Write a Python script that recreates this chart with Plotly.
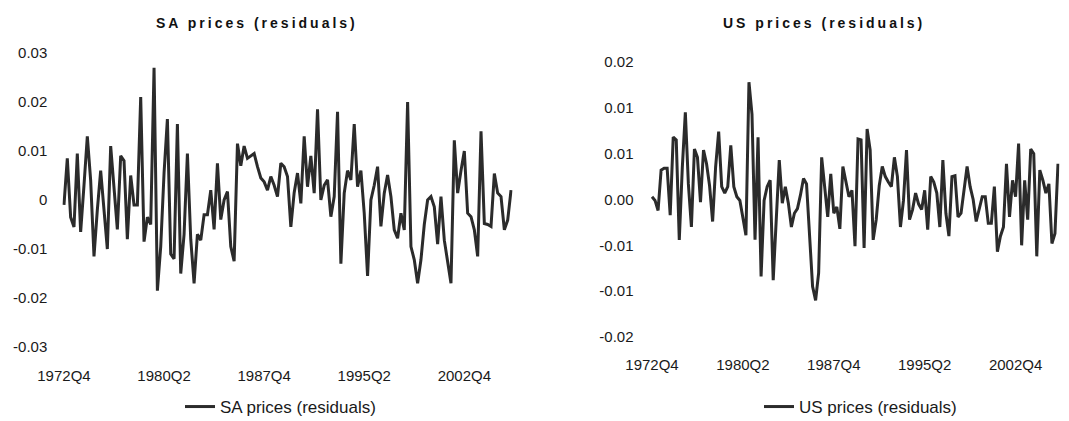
import plotly.graph_objects as go

# ---- data ----
start_year = 1972
start_quarter = 4

sa_residuals = [
    -0.001, 0.0085, -0.0035, -0.0055, 0.0095, -0.0065, 0.003, 0.013, 0.004, -0.0115,
    -0.002, 0.006, -0.002, -0.010, 0.011, 0.002, -0.006, 0.009, 0.008, -0.008,
    0.005, -0.001, -0.001, 0.021, -0.0085, -0.0035, -0.005, 0.027, -0.0185, -0.0095,
    0.0055, 0.0165, -0.011, -0.012, 0.0155, -0.015, -0.007, 0.0095, -0.008, -0.017,
    -0.007, -0.0082, -0.003, -0.003, 0.002, -0.006, 0.0075, -0.004, 0.0, 0.0017,
    -0.0095, -0.0125, 0.0115, 0.007, 0.011, 0.0085, 0.009, 0.0095, 0.0068, 0.0045,
    0.0037, 0.002, 0.0048, 0.003, 0.0007, 0.0075, 0.0068, 0.0048, -0.0055, 0.0015,
    0.0055, -0.0007, 0.013, 0.0027, 0.009, 0.0014, 0.0185, 0.0, 0.003, 0.0041,
    -0.0034, 0.0007, 0.018, -0.013, 0.0014, 0.006, 0.0041, 0.0155, 0.0027, 0.006,
    -0.0027, -0.0155, 0.0, 0.003, 0.0068, -0.0054, 0.0014, 0.0051, 0.0007, -0.0061,
    -0.0078, -0.0027, -0.0061, 0.020, -0.0095, -0.0122, -0.017, -0.0122, -0.005, 0.0,
    0.0007, -0.0014, -0.009, 0.0007, -0.0082, -0.013, -0.017, 0.0122, 0.0014, 0.006,
    0.010, -0.0027, -0.0034, -0.0061, -0.0115, 0.014, -0.0048, -0.005, -0.0054, 0.0054,
    0.0014, 0.0007, -0.0061, -0.0041, 0.002,
]

us_residuals = [
    0.0003, -0.0001, -0.0012, 0.0032, 0.0034, 0.0034, -0.0017, 0.0068, 0.0065, -0.0044,
    0.0035, 0.0095, 0.0017, -0.003, 0.0055, 0.0046, -0.0003, 0.0054, 0.0039, 0.0015,
    -0.0024, 0.0036, 0.0074, 0.0014, 0.0007, 0.0014, 0.0059, 0.0014, 0.0003, -0.0001,
    -0.002, -0.0039, 0.0128, 0.0093, -0.0044, 0.0068, -0.0084, -0.0001, 0.0014, 0.0021,
    -0.0088, -0.0022, 0.0043, -0.0004, 0.0014, -0.0004, -0.003, -0.0015, -0.001, 0.0005,
    0.0023, 0.0017, -0.0033, -0.0095, -0.011, -0.008, 0.0046, 0.0014, -0.0019, 0.0028,
    -0.0015, -0.0008, -0.0032, 0.0036, 0.0021, 0.0003, 0.001, -0.0051, 0.0066, 0.0065,
    -0.0053, 0.0077, 0.0054, -0.0044, -0.0022, 0.0015, 0.0036, 0.0025, 0.0019, 0.0014,
    0.0046, 0.0025, -0.003, -0.0001, 0.0054, -0.0022, -0.0011, 0.0007, -0.0005, -0.0011,
    0.001, -0.0033, 0.0025, 0.0019, 0.0007, -0.003, 0.0043, -0.0015, -0.004, 0.0025,
    0.0026, -0.0019, -0.0015, 0.001, 0.0036, 0.0014, 0.0, -0.0024, -0.001, 0.0003,
    0.0003, -0.0026, -0.0026, 0.0014, -0.0057, -0.004, -0.003, 0.0039, -0.0019, 0.0021,
    0.0003, 0.0061, -0.005, 0.0021, -0.0022, 0.0055, 0.005, -0.0062, 0.0032, 0.0021,
    0.0007, 0.0017, -0.0048, -0.0037, 0.0039,
]

x_tick_labels = ["1972Q4", "1980Q2", "1987Q4", "1995Q2", "2002Q4"]

sa_tick_vals = [0.03, 0.02, 0.01, 0.0, -0.01, -0.02, -0.03]
sa_tick_text = ["0.03", "0.02", "0.01", "0", "-0.01", "-0.02", "-0.03"]

us_tick_vals = [0.015, 0.01, 0.005, 0.0, -0.005, -0.01, -0.015]
us_tick_text = ["0.02", "0.01", "0.01", "0.00", "-0.01", "-0.01", "-0.02"]

sa_name = "SA prices (residuals)"
us_name = "US prices (residuals)"


def quarter_labels(n):
    out = []
    y, q = start_year, start_quarter
    for _ in range(n):
        out.append(f"{y}Q{q}")
        q += 1
        if q > 4:
            q = 1
            y += 1
    return out


sa_periods = quarter_labels(len(sa_residuals))
us_periods = quarter_labels(len(us_residuals))

# figure fills the 1069x421 window (page body margin removed below)
W, H = 1069, 421


def px(xw):
    return xw / W


def py(yw):
    return 1 - yw / H


LINE_COLOR = "#2b2b2b"
TEXT_COLOR = "#1a1a1a"
FONT = "Liberation Sans, Arial, sans-serif"

fig = go.Figure()
fig.add_trace(go.Scatter(
    x=sa_periods, y=sa_residuals, mode="lines", name=sa_name,
    line=dict(color=LINE_COLOR, width=3), xaxis="x", yaxis="y", legend="legend",
))
fig.add_trace(go.Scatter(
    x=us_periods, y=us_residuals, mode="lines", name=us_name,
    line=dict(color=LINE_COLOR, width=3), xaxis="x2", yaxis="y2", legend="legend2",
))

common_x = dict(
    type="category", showgrid=False, zeroline=False, showline=False,
    ticks="", tickvals=x_tick_labels, ticktext=x_tick_labels,
    tickfont=dict(family=FONT, size=15, color=TEXT_COLOR),
    automargin=False,
)
common_y = dict(
    showgrid=False, zeroline=False, showline=False, ticks="",
    tickfont=dict(family=FONT, size=15, color=TEXT_COLOR),
    automargin=False,
)

legend_common = dict(
    yanchor="middle", xanchor="left", orientation="h",
    font=dict(family=FONT, size=17, color=TEXT_COLOR),
    bgcolor="rgba(0,0,0,0)", borderwidth=0,
)

title_font = dict(family=FONT, size=14, color="#111111")


def title_html(t):
    return '<b><span style="letter-spacing:3px">' + t + '</span></b>'


fig.update_layout(
    width=W, height=H,
    margin=dict(l=0, r=0, t=0, b=0, autoexpand=False),
    paper_bgcolor="white", plot_bgcolor="white",
    showlegend=True,
    xaxis=dict(common_x, domain=[px(62.3), px(512.7)], range=[-0.5, len(sa_residuals) - 0.5],
               anchor="y", ticklabelstandoff=18),
    yaxis=dict(common_y, domain=[py(347), py(53)], range=[-0.03, 0.03],
               tickvals=sa_tick_vals, ticktext=sa_tick_text, anchor="x", ticklabelstandoff=14),
    xaxis2=dict(common_x, domain=[px(650.5), px(1059.5)], range=[-0.5, len(us_residuals) - 0.5],
                anchor="y2", ticklabelstandoff=17),
    yaxis2=dict(common_y, domain=[py(337), py(62)], range=[-0.015, 0.015],
                tickvals=us_tick_vals, ticktext=us_tick_text, anchor="x2", ticklabelstandoff=16),
    legend=dict(legend_common, x=px(180), y=py(407)),
    legend2=dict(legend_common, x=px(759), y=py(407)),
    annotations=[
        dict(text=title_html(sa_name), x=px(257), y=py(23), xref="paper", yref="paper",
             showarrow=False, xanchor="center", yanchor="middle", font=title_font),
        dict(text=title_html(us_name), x=px(824), y=py(23), xref="paper", yref="paper",
             showarrow=False, xanchor="center", yanchor="middle", font=title_font),
    ],
)

fig.write_html(
    "out.html",
    config={"displayModeBar": False},
    post_script="document.body.style.margin='0';document.body.style.overflow='hidden';",
)
